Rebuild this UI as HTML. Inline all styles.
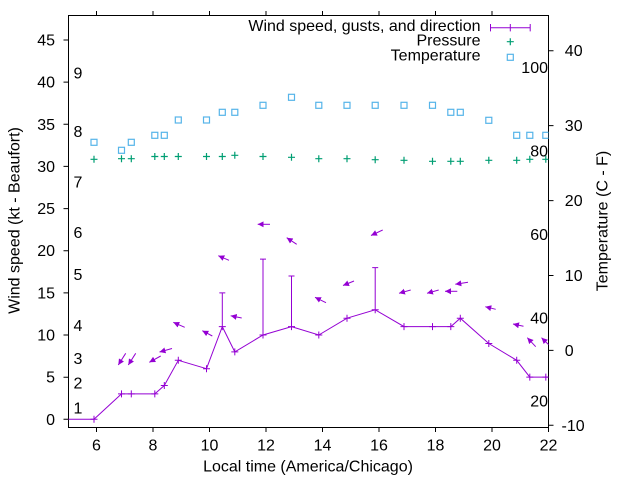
<!DOCTYPE html>
<html><head><meta charset="utf-8"><style>
html,body{margin:0;padding:0;background:#fff;}
svg{display:block;}
text{font-family:"Liberation Sans",Arial,sans-serif;font-size:16px;fill:#000;}
</style></head><body>
<svg width="640" height="480" viewBox="0 0 640 480" xmlns="http://www.w3.org/2000/svg">
<defs>
<clipPath id="pc"><rect x="68.5" y="15.5" width="480" height="412"/></clipPath>
<marker id="ah" markerUnits="userSpaceOnUse" markerWidth="7" markerHeight="7" refX="6" refY="3" orient="auto">
<path d="M0,0 L6,3 L0,6 z" fill="#9400d3"/>
</marker>
</defs>
<rect width="640" height="480" fill="#fff"/>
<!-- box -->
<rect x="68.5" y="15.5" width="480" height="412" fill="none" stroke="#000" stroke-width="1"/>
<!-- left ticks -->
<g stroke="#000" stroke-width="1">
<path d="M63.5,419.3H68.5M63.5,377.2H68.5M63.5,335H68.5M63.5,292.9H68.5M63.5,250.7H68.5M63.5,208.6H68.5M63.5,166.4H68.5M63.5,124.3H68.5M63.5,82.1H68.5M63.5,40H68.5"/>
<path d="M548.5,425.3H553.5M548.5,350.4H553.5M548.5,275.5H553.5M548.5,200.6H553.5M548.5,125.6H553.5M548.5,50.7H553.5"/>
<path d="M96.5,427.5V432M153,427.5V432M209.5,427.5V432M266,427.5V432M322.5,427.5V432M379,427.5V432M435.5,427.5V432M492,427.5V432M548.5,427.5V432"/>
<path d="M96.5,15.5V11M153,15.5V11M209.5,15.5V11M266,15.5V11M322.5,15.5V11M379,15.5V11M435.5,15.5V11M492,15.5V11"/>
</g>
<!-- left tick labels -->
<g text-anchor="end">
<text x="55" y="424.8">0</text>
<text x="55" y="382.7">5</text>
<text x="55" y="340.5">10</text>
<text x="55" y="298.4">15</text>
<text x="55" y="256.2">20</text>
<text x="55" y="214.1">25</text>
<text x="55" y="171.9">30</text>
<text x="55" y="129.8">35</text>
<text x="55" y="87.6">40</text>
<text x="55" y="45.5">45</text>
</g>
<!-- x tick labels -->
<g text-anchor="middle">
<text x="96.5" y="450.5">6</text>
<text x="153" y="450.5">8</text>
<text x="209.5" y="450.5">10</text>
<text x="266" y="450.5">12</text>
<text x="322.5" y="450.5">14</text>
<text x="379" y="450.5">16</text>
<text x="435.5" y="450.5">18</text>
<text x="492" y="450.5">20</text>
<text x="548.5" y="450.5">22</text>
</g>
<!-- right C labels -->
<g>
<text x="561.5" y="430.8">-10</text>
<text x="564.8" y="355.9">0</text>
<text x="564.8" y="281">10</text>
<text x="564.8" y="206.1">20</text>
<text x="564.8" y="131.1">30</text>
<text x="564.8" y="56.2">40</text>
</g>
<!-- F labels -->
<g text-anchor="end">
<text x="548" y="73">100</text>
<text x="548" y="156.5">80</text>
<text x="548" y="240">60</text>
<text x="548" y="323.3">40</text>
<text x="548" y="406.7">20</text>
</g>
<!-- Beaufort labels -->
<g>
<text x="73.5" y="413.5">1</text>
<text x="73.5" y="388.5">2</text>
<text x="73.5" y="364">3</text>
<text x="73.5" y="331">4</text>
<text x="73.5" y="280">5</text>
<text x="73.5" y="238">6</text>
<text x="73.5" y="187.5">7</text>
<text x="73.5" y="137">8</text>
<text x="73.5" y="78.3">9</text>
</g>
<!-- axis labels -->
<text x="308" y="471.5" text-anchor="middle">Local time (America/Chicago)</text>
<text transform="translate(19.5,220.5) rotate(-90)" text-anchor="middle">Wind speed (kt - Beaufort)</text>
<text transform="translate(607.3,221) rotate(-90)" text-anchor="middle">Temperature (C - F)</text>

<g clip-path="url(#pc)">
<!-- temperature squares -->
<g fill="none" stroke="#56b4e9" stroke-width="1.2">
<rect x="91" y="139.3" width="6" height="6"/>
<rect x="118.5" y="147.3" width="6" height="6"/>
<rect x="128.3" y="139.3" width="6" height="6"/>
<rect x="151.8" y="132.3" width="6" height="6"/>
<rect x="161.3" y="132.3" width="6" height="6"/>
<rect x="175.3" y="117" width="6" height="6"/>
<rect x="203.5" y="117" width="6" height="6"/>
<rect x="219.3" y="109.3" width="6" height="6"/>
<rect x="231.8" y="109.3" width="6" height="6"/>
<rect x="260" y="102.3" width="6" height="6"/>
<rect x="288.5" y="94.3" width="6" height="6"/>
<rect x="315.8" y="102.3" width="6" height="6"/>
<rect x="344" y="102.3" width="6" height="6"/>
<rect x="372.2" y="102.3" width="6" height="6"/>
<rect x="401" y="102.3" width="6" height="6"/>
<rect x="429.5" y="102.3" width="6" height="6"/>
<rect x="447.8" y="109.3" width="6" height="6"/>
<rect x="457.3" y="109.3" width="6" height="6"/>
<rect x="485.8" y="117.3" width="6" height="6"/>
<rect x="513.7" y="132.3" width="6" height="6"/>
<rect x="526.8" y="132.3" width="6" height="6"/>
<rect x="542.8" y="132.3" width="6" height="6"/>
</g>
<!-- pressure pluses -->
<path stroke="#009e73" stroke-width="1.2" fill="none" d="
M90.5,159.3h7M94,155.8v7
M118,158.7h7M121.5,155.2v7
M127.8,158.7h7M131.3,155.2v7
M151.3,156.5h7M154.8,153v7
M160.8,156.5h7M164.3,153v7
M174.8,156.5h7M178.3,153v7
M203,156.5h7M206.5,153v7
M218.8,156.5h7M222.3,153v7
M231.3,155.3h7M234.8,151.8v7
M259.5,156.5h7M263,153v7
M288,157.3h7M291.5,153.8v7
M315.3,158.7h7M318.8,155.2v7
M343.5,158.7h7M347,155.2v7
M371.7,159.7h7M375.2,156.2v7
M400.5,160.3h7M404,156.8v7
M429,161.3h7M432.5,157.8v7
M447.3,161.3h7M450.8,157.8v7
M456.8,161.3h7M460.3,157.8v7
M485.3,160.3h7M488.8,156.8v7
M513.2,160.3h7M516.7,156.8v7
M526.3,159.3h7M529.8,155.8v7
M542.3,159.3h7M545.8,155.8v7"/>
<!-- wind line -->
<polyline fill="none" stroke="#9400d3" stroke-width="1" points="68.5,419.3 94,419.3 121.5,393.9 131.3,393.9 154.8,393.9 164.3,385.5 178.3,360.3 206.5,368.7 222.3,326.6 234.8,351.9 263,335 291.5,326.6 318.8,335 347,318.2 375.2,309.8 404,326.6 432.5,326.6 450.8,326.6 460.3,318.2 488.8,343.5 516.7,360.3 529.8,377.1 545.8,377.1 560,377.1"/>
<!-- error bars and markers -->
<path stroke="#9400d3" stroke-width="1" fill="none" d="
M222.3,326.6V292.9M219.3,292.9h6
M263,335V259.1M260,259.1h6
M291.5,326.6V276M288.5,276h6
M375.2,309.8V267.6M372.2,267.6h6
M90.5,419.3h7M94,415.8v7
M118,393.9h7M121.5,390.4v7
M127.8,393.9h7M131.3,390.4v7
M151.3,393.9h7M154.8,390.4v7
M160.8,385.5h7M164.3,382v7
M174.8,360.3h7M178.3,356.8v7
M203,368.7h7M206.5,365.2v7
M218.8,326.6h7M222.3,323.1v7
M231.3,351.9h7M234.8,348.4v7
M259.5,335h7M263,331.5v7
M288,326.6h7M291.5,323.1v7
M315.3,335h7M318.8,331.5v7
M343.5,318.2h7M347,314.7v7
M371.7,309.8h7M375.2,306.3v7
M400.5,326.6h7M404,323.1v7
M429,326.6h7M432.5,323.1v7
M447.3,326.6h7M450.8,323.1v7
M456.8,318.2h7M460.3,314.7v7
M485.3,343.5h7M488.8,340v7
M513.2,360.3h7M516.7,356.8v7
M526.3,377.1h7M529.8,373.6v7
M542.3,377.1h7M545.8,373.6v7"/>
<!-- direction arrows -->
<g stroke="#9400d3" stroke-width="1" fill="none" marker-end="url(#ah)">
<line x1="125.7" y1="353.3" x2="118.3" y2="365"/>
<line x1="135.7" y1="353.3" x2="128.3" y2="365"/>
<line x1="160.7" y1="356" x2="149.3" y2="362.3"/>
<line x1="172" y1="348.5" x2="159.5" y2="352"/>
<line x1="184.7" y1="327.3" x2="173.3" y2="322.3"/>
<line x1="212.3" y1="336" x2="202.3" y2="330.7"/>
<line x1="229" y1="260.3" x2="218.3" y2="255.7"/>
<line x1="241.7" y1="318" x2="230.7" y2="315.7"/>
<line x1="270" y1="224.3" x2="257.7" y2="224.3"/>
<line x1="296.7" y1="244.3" x2="286.7" y2="237.7"/>
<line x1="326" y1="302.7" x2="315" y2="297.3"/>
<line x1="354" y1="281" x2="343" y2="285.5"/>
<line x1="382.7" y1="230" x2="371" y2="235.5"/>
<line x1="410.7" y1="290" x2="399" y2="293.3"/>
<line x1="438.7" y1="290" x2="427" y2="293.3"/>
<line x1="457.3" y1="291.3" x2="445" y2="291.3"/>
<line x1="468" y1="282.3" x2="455.3" y2="284.3"/>
<line x1="495.7" y1="309.3" x2="485.3" y2="306.7"/>
<line x1="523.5" y1="326.3" x2="513" y2="324"/>
<line x1="535.7" y1="346.7" x2="527.3" y2="337.7"/>
<line x1="550.7" y1="346.7" x2="541.5" y2="337.7"/>
</g>
</g>
<!-- legend -->
<g text-anchor="end">
<text x="480.5" y="31">Wind speed, gusts, and direction</text>
<text x="480.5" y="45.5">Pressure</text>
<text x="480.5" y="60.5">Temperature</text>
</g>
<path stroke="#9400d3" stroke-width="1" fill="none" d="M490,27.7H530.7M490.5,24v7.4M530.2,24v7.4M510.3,24v7.4"/>
<path stroke="#009e73" stroke-width="1.2" fill="none" d="M506.8,41.7h7M510.3,38.2v7"/>
<rect x="507.3" y="54.3" width="6" height="6" fill="none" stroke="#56b4e9" stroke-width="1.2"/>
</svg>
</body></html>
